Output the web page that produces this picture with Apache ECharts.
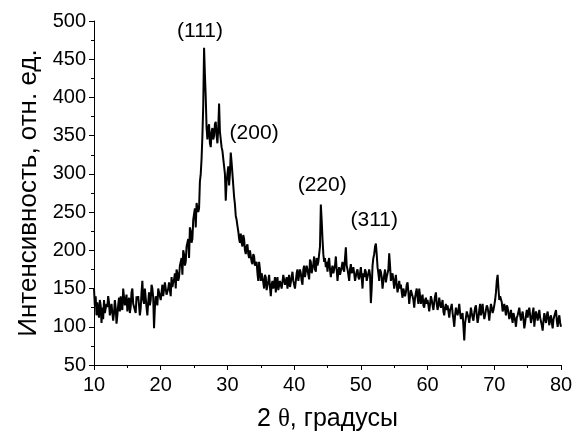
<!DOCTYPE html>
<html>
<head>
<meta charset="utf-8">
<script src="https://cdn.jsdelivr.net/npm/echarts@6/dist/echarts.min.js"></script>
<style>html,body{margin:0;padding:0;background:#fff}#c{width:573px;height:431px}</style>
</head>
<body>
<div id="c"></div>
<script>
// 2θ grid (degrees) – start and step of the measured scan
const angleStart = 10;
const angleStep = 0.125;
// Intensity (arb. units), one value per grid point (8 per degree)
const intensity = [
  150,128,140,115,132,120,112,135,  128,105,125,110,135,118,120,130,
  126,140,132,115,122,130,118,108,  118,135,125,104,115,128,138,120,
  140,125,122,150,148,128,130,142,  120,132,138,118,126,145,150,130,
  132,122,118,140,135,140,128,115,  124,145,160,135,130,150,138,125,
  115,132,145,128,135,155,150,138,  98,125,140,135,128,150,148,140,
  135,145,155,140,138,158,150,142,  142,150,158,148,140,165,152,158,
  162,170,150,175,170,160,165,180,  178,190,168,200,195,180,185,205,
  205,215,190,230,225,210,215,240,  240,255,230,262,262,250,255,290,
  300,320,350,390,465,430,400,360,  345,360,365,340,335,355,360,345,
  350,365,368,350,340,360,392,355,  345,335,330,320,310,300,265,290,
  300,310,285,300,328,315,300,285,  270,260,245,240,232,225,215,210,
  222,210,205,220,215,200,195,205,  208,195,190,200,200,185,182,195,
  192,180,178,185,170,160,185,175,  160,170,172,158,150,168,165,148,
  148,160,168,152,140,155,160,150,  155,165,145,160,165,148,150,160,
  162,150,148,168,170,155,155,165,  150,160,168,152,158,165,172,160,
  160,150,148,170,175,160,162,175,  170,160,155,175,180,165,165,180,
  175,168,162,188,185,170,170,182,  192,175,172,190,180,185,195,205,
  260,240,215,195,185,190,178,185,  172,185,190,175,165,175,180,170,
  170,180,192,175,160,172,178,168,  168,178,185,175,172,190,204,180,
  175,168,160,175,182,170,168,178,  170,160,158,172,175,165,162,170,
  178,165,150,170,165,175,172,160,  160,170,175,168,131,150,180,190,
  195,205,209,195,178,170,160,175,  172,165,150,160,168,175,158,165,
  165,175,196,180,160,165,170,160,  150,160,168,155,145,152,160,150,
  155,145,138,150,150,140,145,155,  158,145,130,140,148,150,140,135,
  125,138,145,150,138,130,150,140,  130,138,142,128,125,135,138,130,
  135,128,120,130,140,135,128,122,  132,140,145,130,122,128,138,130,
  125,130,135,120,115,125,130,122,  128,120,112,122,125,130,118,110,
  100,115,125,120,115,122,130,118,  110,115,118,100,82,105,112,120,
  120,112,105,115,125,118,112,108,  118,125,128,115,105,112,122,130,
  115,122,130,118,110,115,122,128,  125,118,108,120,130,125,118,122,
  128,135,145,160,168,150,135,140,  140,132,120,125,130,122,115,128,
  125,118,110,115,122,112,105,118,  118,108,100,112,115,120,125,115,
  108,115,120,110,98,105,115,122,  112,120,125,115,105,110,118,125,
  100,112,120,115,108,115,122,112,  112,102,95,108,118,110,105,115,
  120,110,102,112,115,105,98,110,  110,118,122,108,100,110,115,105,
  100
];
// Peak (hkl) annotations
const peakLabels = ['(111)', '(200)', '(220)', '(311)'];
const peakLabelX = [25.9, 34.0, 44.2, 52.0];
const peakLabelY = [486, 353, 285, 239];
// Axis ticks
const xTicks = [10, 20, 30, 40, 50, 60, 70, 80];
const yTicks = [50, 100, 150, 200, 250, 300, 350, 400, 450, 500];

const lineData = intensity.map((v, i) => [angleStart + i * angleStep, v]);
const labelData = peakLabels.map((t, i) => ({ value: [peakLabelX[i], peakLabelY[i]], name: t }));

const font = 'Liberation Sans, Arial, sans-serif';
const chart = echarts.init(document.getElementById('c'), null, { renderer: 'canvas' });
chart.setOption({
  animation: false,
  backgroundColor: '#fff',
  grid: { left: 94, right: 12, top: 21, bottom: 66, outerBoundsMode: 'none', containLabel: false },
  xAxis: {
    type: 'value',
    min: xTicks[0], max: xTicks[xTicks.length - 1], interval: 10,
    name: '2 {t|θ}, градусы',
    nameLocation: 'middle', nameGap: 42,
    nameTextStyle: { color: '#000', fontSize: 25, fontFamily: font,
      rich: { t: { fontFamily: 'Liberation Serif, Times New Roman, serif', fontSize: 25, color: '#000' } } },
    axisLine: { lineStyle: { color: '#000', width: 1 } },
    axisTick: { length: 5, lineStyle: { color: '#000' } },
    minorTick: { show: true, splitNumber: 2, length: 3, lineStyle: { color: '#000' } },
    axisLabel: { color: '#000', fontSize: 20, fontFamily: font, margin: 10 },
    splitLine: { show: false }
  },
  yAxis: {
    type: 'value',
    min: yTicks[0], max: yTicks[yTicks.length - 1], interval: 50,
    name: 'Интенсивность, отн. ед.',
    nameLocation: 'middle', nameGap: 52,
    nameTextStyle: { color: '#000', fontSize: 26, fontFamily: font },
    axisLine: { show: true, lineStyle: { color: '#000', width: 1 } },
    axisTick: { show: true, length: 5, lineStyle: { color: '#000' } },
    minorTick: { show: true, splitNumber: 2, length: 3, lineStyle: { color: '#000' } },
    axisLabel: { color: '#000', fontSize: 20, fontFamily: font, margin: 8 },
    splitLine: { show: false }
  },
  series: [
    {
      type: 'line', data: lineData, showSymbol: false, symbol: 'none',
      lineStyle: { color: '#000', width: 2 }, z: 2
    },
    {
      type: 'scatter', data: labelData, symbolSize: 0,
      itemStyle: { color: '#000', opacity: 1 },
      label: { show: true, position: 'inside', formatter: p => p.name,
        color: '#000', textBorderWidth: 0, fontSize: 21, fontFamily: font },
      z: 3
    }
  ]
});
</script>
</body>
</html>
